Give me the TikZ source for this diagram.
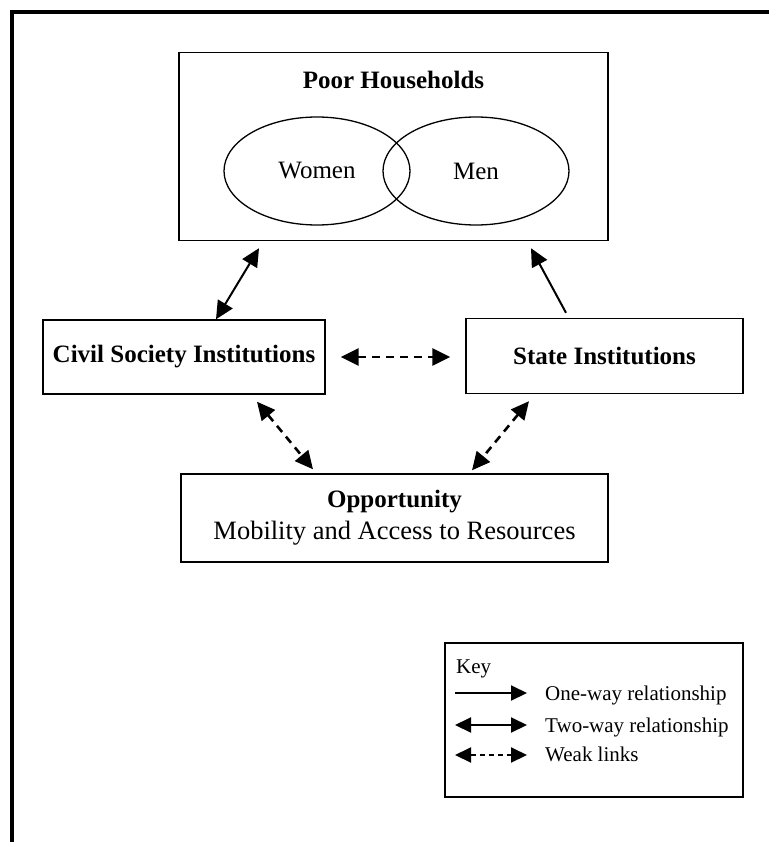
\documentclass[tikz,border=0pt]{standalone}
\usepackage{fontspec}
\setmainfont{Liberation Serif}
\usetikzlibrary{arrows.meta,calc,shapes.geometric}
\begin{document}
\begin{tikzpicture}[x=1pt,y=-1pt,
  box/.style={draw, line width=1.4pt, inner sep=0pt},
  heading/.style={font=\fontsize{25}{32}\selectfont\bfseries},
  plain/.style={font=\fontsize{25}{32}\selectfont},
  oval/.style={draw, ellipse, line width=1.3pt, inner sep=0pt,
    minimum width=186pt, minimum height=108pt, plain},
  keytext/.style={font=\fontsize{21}{25}\selectfont, anchor=base west, inner sep=0pt},
  tip/.style={-{Triangle[length=18pt,width=17pt]}},
  twoway/.style={{Triangle[length=18pt,width=17pt]}-{Triangle[length=18pt,width=17pt]}},
  keytip/.style={-{Triangle[length=16pt,width=15pt]}},
  keytwoway/.style={{Triangle[length=16pt,width=15pt]}-{Triangle[length=16pt,width=15pt]}},
  link/.style={line width=2pt},
  weak/.style={line width=2.6pt, dash pattern=on 8pt off 6pt},
]
\useasboundingbox (0,0) rectangle (769,842);

% frame
\draw[line width=3.5pt] (12,842) -- (12,12) -- (769,12);

% households
\node[box, minimum width=429pt, minimum height=188pt] (poor) at (393.5,146.5) {};
\node[heading, anchor=base, inner sep=0pt] (poortitle) at (393.5,89) {Poor Households};
\node[oval] (women) at (317,171) {Women};
\node[oval] (men) at (476,171) {Men};

% institutions
\node[box, heading, minimum width=282pt, minimum height=74pt] (civil) at (184,357) {Civil Society Institutions};
\node[box, heading, minimum width=277pt, minimum height=75pt] (state) at (604.5,356) {State Institutions};

% opportunity
\node[box, align=center, minimum width=427pt, minimum height=88pt,
  font=\fontsize{26.5}{32}\selectfont] (opp) at (394.5,518)
  {{\fontsize{25}{32}\selectfont\bfseries Opportunity}\\Mobility and Access to Resources};

% relationships
\draw[link, twoway] ([xshift=32pt]civil.north) -- ([xshift=-134.5pt,yshift=-7pt]poor.south);
\draw[link, tip] ([xshift=-38.5pt,yshift=5pt]state.north) -- ([xshift=137.5pt,yshift=-7pt]poor.south);
\draw[weak, twoway] ($(civil.east)+(15,0)$) -- ($(civil.east -| state.west)+(-15,0)$);
\draw[weak, twoway] ([xshift=73pt,yshift=-7pt]civil.south) -- ([xshift=-81.5pt,yshift=4pt]opp.north);
\draw[weak, twoway] ([xshift=-75.5pt,yshift=-7pt]state.south) -- ([xshift=77.5pt,yshift=3pt]opp.north);

% key
\node[box, minimum width=298pt, minimum height=154pt] (key) at (594,720) {};
\node[keytext] (keytitle) at (456,673) {Key};
\coordinate (k1s) at (455,693); \coordinate (k1e) at (527,693);
\coordinate (k2s) at (455,725); \coordinate (k2e) at (527,725);
\coordinate (k3s) at (455,755); \coordinate (k3e) at (527,755);
\draw[link, keytip] (k1s) -- (k1e);
\draw[link, keytwoway] (k2s) -- (k2e);
\draw[link, keytwoway, dash pattern=on 5pt off 4pt] (k3s) -- (k3e);
\node[keytext] (k1t) at (545,700) {One-way relationship};
\node[keytext] (k2t) at (545,732) {Two-way relationship};
\node[keytext] (k3t) at (545,761) {Weak links};
\end{tikzpicture}
\end{document}
